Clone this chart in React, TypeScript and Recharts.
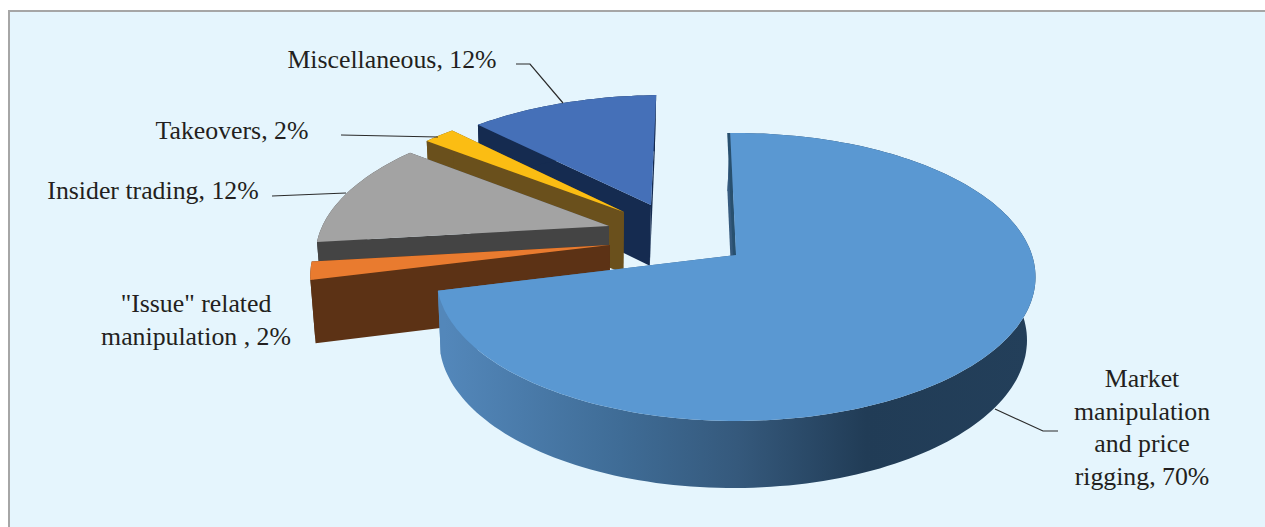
import { Cell, Pie, PieChart } from "recharts";

// share of cases per category, listed in drawing order (back to front)
const categories = [
  "Miscellaneous",
  "Takeovers",
  "Insider trading",
  '"Issue" related\nmanipulation ',
  "Market\nmanipulation\nand price\nrigging",
];
const shares = [12, 2, 12, 2, 70];

const topColors = ["#4570b8", "#fbbd13", "#a3a3a3", "#e97b2f", "#5a98d2"];
const wallColors = ["#152b50", "#6a501c", "#444444", "#5c3215", "url(#marketWall)"];

const slices = categories.map((name, i) => ({ name, value: shares[i] }));

const WIDTH = 1265;
const HEIGHT = 527;
const CX = 736;
const CY = 255;
const RADIUS = 296;

// view of the disc: flattening, perspective strength, extrusion height
const TILT = 0.475;
const PERSPECTIVE = 0.1527;
const DEPTH = 62.5;
const DEPTH_NEAR = 30;
const TAPER = 0.019;
const TAPER_SHIFT = -150;

// where each slice's tip ends up after being pulled out, px from the pie centre
const tipOffsets = [
  [-85, -50],
  [-112, -43],
  [-127, -29],
  [-126, -10],
  [0, 0],
];

// text centre x, first line centre y, leader line
const labelSpots = [
  { x: 392, y: 60, leader: "516,64 530,64 563,103" },
  { x: 232, y: 131, leader: "341,135 438,137" },
  { x: 153, y: 191, leader: "272,196 346,193" },
  { x: 196, y: 304, leader: "" },
  { x: 1142, y: 379, leader: "995,409 1043,431 1058,431" },
];

const LINE_HEIGHT = 32.6;

type Pt = [number, number];

function project(u: number, v: number, z: number, cx: number, cy: number, r: number): Pt {
  const w = 1 + PERSPECTIVE * v;
  const x = cx + (r * u) / w;
  const y = cy - (r * TILT * v) / w + (DEPTH + DEPTH_NEAR * (1 - w)) * z;
  return [x + (cx + TAPER_SHIFT - x) * TAPER * z, y];
}

// plan position of a slice tip from its offset on screen
function tipPlan(dx: number, dy: number, r: number): Pt {
  const up = -dy;
  const v = up / (r * TILT - PERSPECTIVE * up);
  return [(dx * (1 + PERSPECTIVE * v)) / r, v];
}

const toPath = (pts: Pt[]) =>
  "M" + pts.map((p) => `${p[0].toFixed(1)},${p[1].toFixed(1)}`).join("L") + "Z";

function ExtrudedSlice(props: any) {
  const { cx, cy, outerRadius: r, startAngle, endAngle, name } = props;
  const i = categories.indexOf(name);
  const [tipU, tipV] = tipPlan(tipOffsets[i][0], tipOffsets[i][1], r);

  const at = (deg: number, z: number) => {
    const a = (deg * Math.PI) / 180;
    return project(tipU + Math.cos(a), tipV + Math.sin(a), z, cx, cy, r);
  };
  const steps = Math.max(4, Math.ceil(Math.abs(endAngle - startAngle) / 1.5));
  const angles = Array.from({ length: steps + 1 }, (_, k) => startAngle + ((endAngle - startAngle) * k) / steps);

  const tip = project(tipU, tipV, 0, cx, cy, r);
  const tipLow = project(tipU, tipV, 1, cx, cy, r);
  const arcTop = angles.map((a) => at(a, 0));
  const arcLow = angles.map((a) => at(a, 1));
  const first = arcTop[0];
  const firstLow = arcLow[0];
  const last = arcTop[steps];
  const lastLow = arcLow[steps];

  const wall = wallColors[i];
  const isMain = i === categories.length - 1;

  return (
    <g>
      <path d={toPath([tip, first, firstLow, tipLow])} fill={wall} />
      <path d={toPath([tip, last, lastLow, tipLow])} fill={wall} />
      <path d={toPath([...arcTop, ...[...arcLow].reverse()])} fill={wall} />
      {isMain && (
        // sliver of the cut face showing left of the upright edge
        <path
          d={toPath([tip, last, [last[0] - 3, last[1]], [tip[0] - 3, tip[1]]])}
          fill="#28506f"
        />
      )}
      <path d={toPath([tip, ...arcTop])} fill={topColors[i]} />
    </g>
  );
}

function SliceLabel(props: any) {
  const { name, value } = props;
  const i = categories.indexOf(name);
  const spot = labelSpots[i];
  const lines = `${name}, ${value}%`.split("\n");
  return (
    <g>
      {spot.leader && (
        <polyline points={spot.leader} fill="none" stroke="#2b2b2b" strokeWidth={1.2} />
      )}
      <text
        textAnchor="middle"
        fontFamily="'Liberation Serif', serif"
        fontSize={25.8}
        fill="#231f20"
      >
        {lines.map((line, k) => (
          <tspan key={k} x={spot.x} y={spot.y + 8 + k * LINE_HEIGHT} xmlSpace="preserve">
            {line}
          </tspan>
        ))}
      </text>
    </g>
  );
}

export default function App() {
  return (
    <div style={{ position: "absolute", left: 0, top: 0, width: WIDTH, height: HEIGHT, background: "#fff", overflow: "hidden" }}>
      <div
        style={{
          position: "absolute",
          left: 8,
          top: 10,
          right: 0,
          bottom: 0,
          background: "#e5f5fd",
          borderTop: "2px solid #a6a6a6",
          borderLeft: "2px solid #a6a6a6",
        }}
      />
      <div style={{ position: "absolute", left: 0, top: 0 }}>
        <PieChart width={WIDTH} height={HEIGHT} margin={{ top: 0, right: 0, bottom: 0, left: 0 }}>
          <defs>
            <linearGradient id="marketWall" gradientUnits="userSpaceOnUse" x1={445} y1={0} x2={1030} y2={0}>
              <stop offset="0%" stopColor="#5387ba" />
              <stop offset="30%" stopColor="#3f6c96" />
              <stop offset="50%" stopColor="#35597c" />
              <stop offset="72%" stopColor="#213c56" />
              <stop offset="100%" stopColor="#233f5a" />
            </linearGradient>
          </defs>
          <Pie
            data={slices}
            dataKey="value"
            nameKey="name"
            cx={CX}
            cy={CY}
            outerRadius={RADIUS}
            startAngle={91.3}
            endAngle={451.3}
            paddingAngle={0}
            stroke="none"
            shape={ExtrudedSlice}
            label={SliceLabel}
            labelLine={false}
            isAnimationActive={false}
          >
            {slices.map((s, i) => (
              <Cell key={s.name} fill={topColors[i]} />
            ))}
          </Pie>
        </PieChart>
      </div>
    </div>
  );
}
